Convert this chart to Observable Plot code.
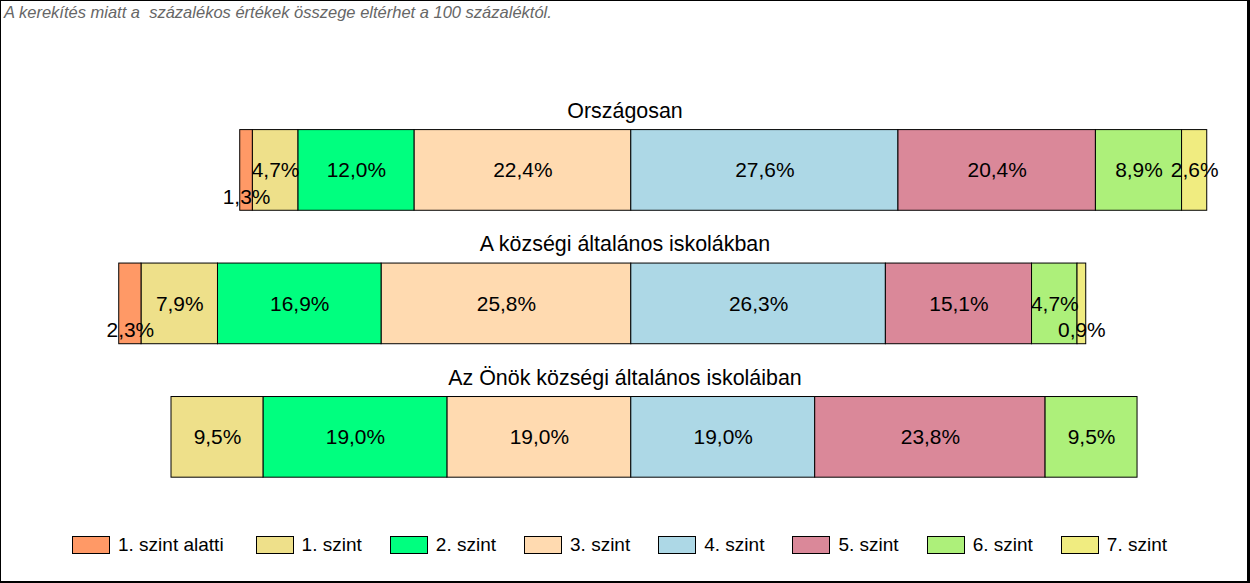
<!DOCTYPE html>
<html>
<head>
<meta charset="utf-8">
<script src="https://cdn.jsdelivr.net/npm/d3@7"></script>
<script src="https://cdn.jsdelivr.net/npm/@observablehq/plot@0.6"></script>
<style>
  html, body { margin: 0; padding: 0; background: #fff; }
  #frame {
    position: relative; width: 1250px; height: 583px; box-sizing: border-box;
    border-left: 1px solid #000; border-top: 1px solid #000;
    border-right: 3px solid #000; border-bottom: 2px solid #000;
    font-family: "Liberation Sans", Arial, sans-serif; overflow: hidden;
  }
  #note {
    position: absolute; left: 3px; top: 2px; font-style: italic; color: #666;
    font-size: 16.5px; white-space: pre;
  }
  #chart { position: absolute; left: 1px; top: 28px; }
  #legend {
    position: absolute; left: 71px; top: 533px; display: flex; align-items: center;
    font-size: 19px; color: #000;
  }
  .item { display: flex; align-items: center; margin-right: 28px; }
  .item:first-child { margin-right: 32px; }
  .sw { width: 38px; height: 18px; box-sizing: border-box; border: 1px solid #000; margin-right: 8px; }
</style>
</head>
<body>
<div id="frame">
  <div id="note"></div>
  <div id="chart"></div>
  <div id="legend"></div>
</div>
<script>
const noteText = "A kerekítés miatt a  százalékos értékek összege eltérhet a 100 százaléktól.";
const groups = ["Országosan", "A községi általános iskolákban", "Az Önök községi általános iskoláiban"];
const levels = ["1. szint alatti", "1. szint", "2. szint", "3. szint", "4. szint", "5. szint", "6. szint", "7. szint"];
const colors = ["#FF9966", "#EEE08A", "#00FF7F", "#FFDAB0", "#ADD8E6", "#DA8899", "#ADF07A", "#F0EC80"];
const orszagosan = [1.3, 4.7, 12.0, 22.4, 27.6, 20.4, 8.9, 2.6];
const kozsegi = [2.3, 7.9, 16.9, 25.8, 26.3, 15.1, 4.7, 0.9];
const onok = [0, 9.5, 19.0, 19.0, 19.0, 23.8, 9.5, 0];
const seriesValues = [orszagosan, kozsegi, onok];

document.getElementById("note").textContent = noteText;

const rows = [];
groups.forEach((g, gi) => {
  const v = seriesValues[gi];
  let cum = 0;
  for (let i = 3; i >= 0; i--) {
    rows.push({group: g, level: levels[i], value: v[i], x1: -(cum + v[i]), x2: -cum});
    cum += v[i];
  }
  cum = 0;
  for (let i = 4; i < levels.length; i++) {
    rows.push({group: g, level: levels[i], value: v[i], x1: cum, x2: cum + v[i]});
    cum += v[i];
  }
});
rows.forEach(d => {
  d.mid = (d.x1 + d.x2) / 2;
  d.label = d.value.toFixed(1).replace(".", ",") + "%";
});
const shown = rows.filter(d => d.value > 0);

const chart = Plot.plot({
  width: 1250,
  height: 520,
  marginLeft: 20,
  marginRight: 20,
  marginTop: 48,
  marginBottom: 17,
  style: {fontFamily: "'Liberation Sans', Arial, sans-serif", background: "transparent"},
  x: {domain: [-62.9, 61.6], axis: null},
  y: {domain: groups, padding: 0.3955, axis: null},
  color: {domain: levels, range: colors},
  marks: [
    Plot.rectX(shown, {x1: "x1", x2: "x2", y: "group", fill: "level", stroke: "black", strokeWidth: 1}),
    Plot.text(shown.filter(d => d.value >= 2.5), {x: "mid", y: "group", text: "label", fontSize: 21, fill: "black"}),
    Plot.text(shown.filter(d => d.value < 2.5), {x: "mid", y: "group", text: "label", fontSize: 21, fill: "black", dy: 27}),
    Plot.text(groups, {y: d => d, text: d => d, frameAnchor: "middle", dy: -59.5, fontSize: 21.5, fill: "black"})
  ]
});
document.getElementById("chart").appendChild(chart);

const legend = document.getElementById("legend");
levels.forEach((l, i) => {
  const item = document.createElement("div");
  item.className = "item";
  const sw = document.createElement("div");
  sw.className = "sw";
  sw.style.background = colors[i];
  const t = document.createElement("span");
  t.textContent = l;
  item.appendChild(sw);
  item.appendChild(t);
  legend.appendChild(item);
});
</script>
</body>
</html>
